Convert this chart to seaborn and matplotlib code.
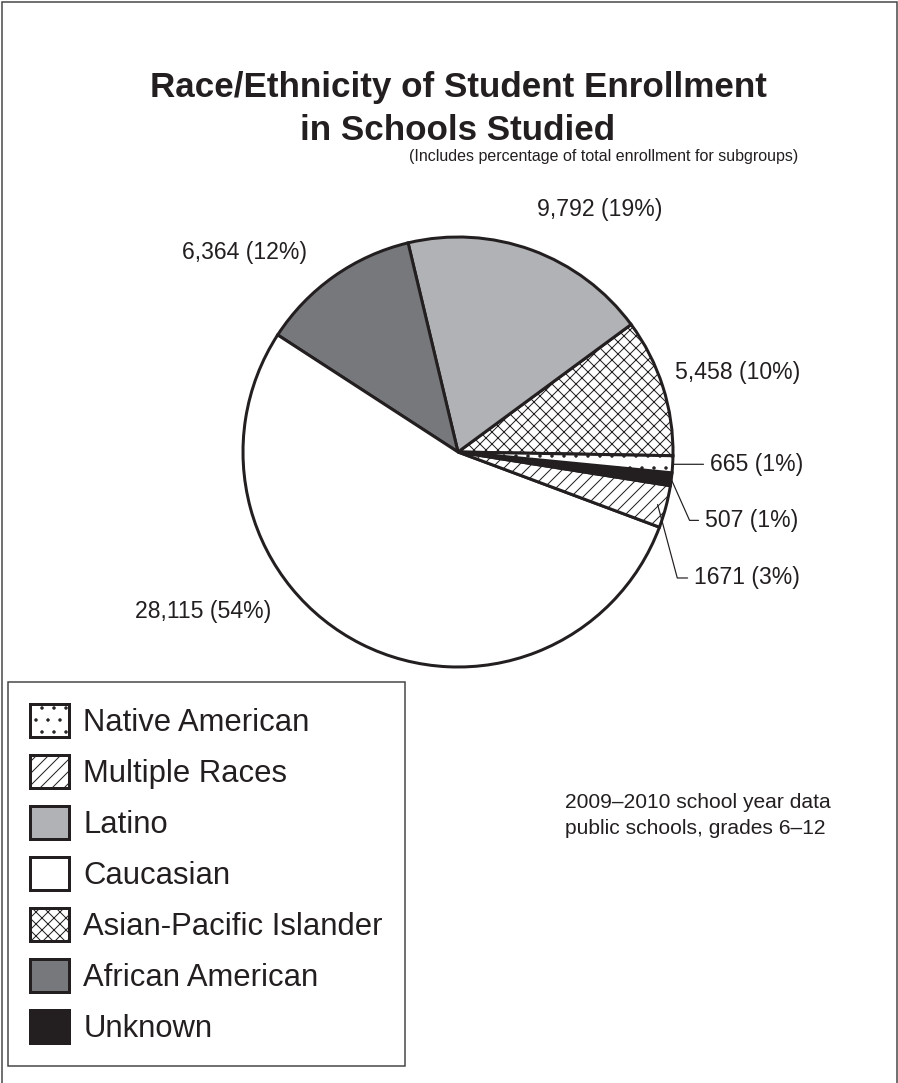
import numpy as np
import matplotlib
matplotlib.use("Agg")
import matplotlib.pyplot as plt
import matplotlib.patches as mpatches
import seaborn as sns

# data, in drawing order (counter-clockwise from the 3 o'clock position)
groups = ['Asian-Pacific Islander', 'Latino', 'African American', 'Caucasian',
          'Multiple Races', 'Unknown', 'Native American']
counts = [5458, 9792, 6364, 28115, 1671, 507, 665]
pct_labels = ['10%', '19%', '12%', '54%', '3%', '1%', '1%']
count_labels = ['5,458', '9,792', '6,364', '28,115', '1671', '507', '665']
legend_order = ['Native American', 'Multiple Races', 'Latino', 'Caucasian',
                'Asian-Pacific Islander', 'African American', 'Unknown']

INK = '#231f20'
styles = {
    'Asian-Pacific Islander': dict(fc='white', hatch='xx'),
    'Latino': dict(fc='#b1b2b5', hatch=None),
    'African American': dict(fc='#77787b', hatch=None),
    'Caucasian': dict(fc='white', hatch=None),
    'Multiple Races': dict(fc='white', hatch='//'),
    'Unknown': dict(fc=INK, hatch=None),
    'Native American': dict(fc='white', hatch='.'),
}

sns.set_theme(style='white')
plt.rcParams['font.family'] = ['Liberation Sans', 'DejaVu Sans']
plt.rcParams['text.color'] = INK
plt.rcParams['hatch.linewidth'] = 1.0
plt.rcParams['hatch.color'] = INK

W, H = 898, 1083
fig = plt.figure(figsize=(W / 72, H / 72), dpi=72)
fig.patch.set_facecolor('white')

# outer frame
fig.patches.append(mpatches.Rectangle((2 / W, -0.01), (W - 3) / W, 1.01 - 2 / H,
                                      transform=fig.transFigure, fill=False,
                                      edgecolor='#444444', linewidth=1.5))

# pie axes: centre (458, 452) px, radius 215 px
cx, cy, r = 458, 452, 215
ax = fig.add_axes([(cx - r) / W, (H - cy - r) / H, 2 * r / W, 2 * r / H])
wedges, _ = ax.pie(counts, startangle=-1, counterclock=True,
                   colors=[styles[g]['fc'] for g in groups],
                   wedgeprops=dict(edgecolor=INK, linewidth=3))
for w, g in zip(wedges, groups):
    if styles[g]['hatch']:
        w.set_hatch(styles[g]['hatch'])
ax.set_xlim(-1, 1)
ax.set_ylim(-1, 1)
ax.set_aspect('equal')
ax.axis('off')

# label positions (left edge, vertical centre), in pie radius units
label_pos = {
    'Asian-Pacific Islander': (1.009, 0.372),
    'Latino': (0.367, 1.130),
    'African American': (-1.284, 0.926),
    'Caucasian': (-1.502, -0.744),
}
leader = {
    'Native American': (1.172, None, 1.0, None),
    'Unknown': (1.149, -0.318, 1.0, -66),
    'Multiple Races': (1.098, -0.586, 0.96, -75),
}

for w, g, c, p in zip(wedges, groups, count_labels, pct_labels):
    txt = f'{c} ({p})'
    mid = np.deg2rad((w.theta1 + w.theta2) / 2)
    if g in label_pos:
        ax.text(*label_pos[g], txt, ha='left', va='center', fontsize=23)
    else:
        tx, ty, rr, angB = leader[g]
        ex, ey = rr * np.cos(mid), rr * np.sin(mid)
        if ty is None:
            ty = ey
            cs = 'arc3'
        else:
            cs = f'angle,angleA=0,angleB={angB},rad=0'
        ax.annotate(txt, xy=(ex, ey), xytext=(tx, ty), ha='left', va='center',
                    fontsize=23, annotation_clip=False,
                    arrowprops=dict(arrowstyle='-', color=INK, lw=1.2,
                                    connectionstyle=cs, relpos=(0, 0.5),
                                    shrinkA=4, shrinkB=0))

# titles
fig.text(458 / W, 1 - 87 / H, 'Race/Ethnicity of Student Enrollment',
         ha='center', va='center', fontsize=35, fontweight='bold')
fig.text(458 / W, 1 - 130 / H, 'in Schools Studied',
         ha='center', va='center', fontsize=35, fontweight='bold')
fig.text(798 / W, 1 - 157 / H, '(Includes percentage of total enrollment for subgroups)',
         ha='right', va='center', fontsize=16)

fig.text(565 / W, 1 - 803 / H, '2009\u20132010 school year data',
         ha='left', va='center', fontsize=21)
fig.text(565 / W, 1 - 829 / H, 'public schools, grades 6\u201312',
         ha='left', va='center', fontsize=21)

# legend
handles = [mpatches.Patch(facecolor=styles[g]['fc'], hatch=styles[g]['hatch'],
                          edgecolor=INK, linewidth=3) for g in legend_order]
leg = fig.legend(handles, legend_order, loc='upper left',
                 bbox_to_anchor=(8 / W, 1 - 682 / H), bbox_transform=fig.transFigure,
                 borderaxespad=0, fontsize=31, handlelength=1.26, handleheight=1.26,
                 labelspacing=0.55, handletextpad=0.45, borderpad=0.72,
                 frameon=True, fancybox=False, framealpha=1)
leg.get_frame().set_edgecolor('#444444')
leg.get_frame().set_linewidth(1.5)
for t in leg.get_texts():
    t.set_color(INK)

fig.savefig('out.png', dpi=72, facecolor='white')
